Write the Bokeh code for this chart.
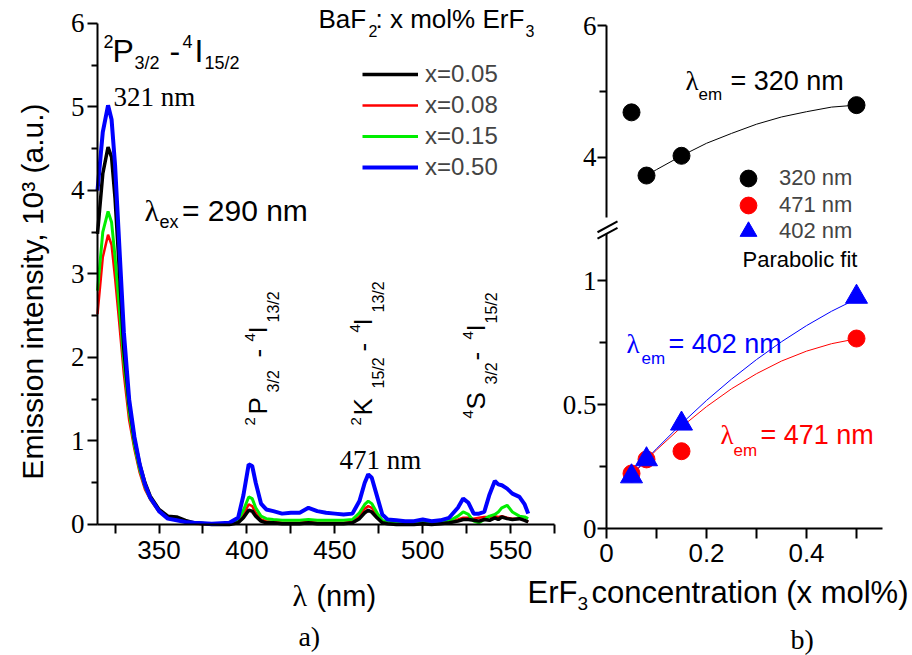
import math
from bokeh.plotting import figure
from bokeh.models import Range1d, LinearAxis, FixedTicker, Label, Legend, LegendItem, Grid
from bokeh.embed import file_html
from bokeh.resources import INLINE

# ---------------- data: panel a) emission spectra ----------------
wavelength = [315, 318, 321, 323, 325, 327, 330, 333, 336, 339,
              342, 345, 350, 355, 360, 365, 370, 380, 390, 395,
              398, 401, 403, 405, 408, 411, 415, 420, 425, 430,
              435, 440, 445, 450, 455, 460, 464, 467, 469, 471,
              474, 477, 480, 485, 490, 495, 500, 505, 510, 515,
              520, 523, 526, 529, 532, 535, 538, 541, 543, 545,
              548, 551, 555, 558, 560]
int_x005 = [3.48, 4.20, 4.52, 4.40, 3.90, 3.20, 2.10, 1.45, 1.02, 0.72,
            0.50, 0.34, 0.18, 0.10, 0.09, 0.05, 0.02, 0.00, 0.00, 0.02,
            0.08, 0.17, 0.16, 0.10, 0.04, 0.02, 0.02, 0.01, 0.01, 0.01,
            0.02, 0.01, 0.01, 0.01, 0.01, 0.02, 0.07, 0.14, 0.17, 0.15,
            0.08, 0.02, 0.01, 0.00, 0.00, 0.00, 0.01, 0.00, 0.01, 0.02,
            0.04, 0.06, 0.06, 0.05, 0.04, 0.06, 0.05, 0.08, 0.06, 0.09,
            0.07, 0.06, 0.07, 0.05, 0.03]
int_x008 = [2.52, 3.20, 3.47, 3.35, 2.95, 2.50, 1.80, 1.25, 0.90, 0.62,
            0.42, 0.30, 0.15, 0.08, 0.06, 0.03, 0.01, 0.00, 0.00, 0.03,
            0.12, 0.24, 0.22, 0.14, 0.06, 0.04, 0.03, 0.02, 0.02, 0.02,
            0.03, 0.02, 0.02, 0.02, 0.02, 0.03, 0.10, 0.19, 0.22, 0.20,
            0.11, 0.03, 0.01, 0.01, 0.00, 0.00, 0.01, 0.01, 0.01, 0.03,
            0.06, 0.08, 0.08, 0.07, 0.08, 0.09, 0.09, 0.10, 0.09, 0.10,
            0.08, 0.07, 0.07, 0.05, 0.03]
int_x015 = [2.80, 3.50, 3.75, 3.62, 3.20, 2.70, 1.95, 1.35, 0.95, 0.66,
            0.45, 0.31, 0.16, 0.08, 0.06, 0.03, 0.02, 0.01, 0.01, 0.05,
            0.17, 0.33, 0.31, 0.20, 0.10, 0.07, 0.06, 0.05, 0.05, 0.05,
            0.06, 0.05, 0.05, 0.05, 0.05, 0.06, 0.14, 0.24, 0.28, 0.25,
            0.14, 0.05, 0.03, 0.02, 0.02, 0.02, 0.03, 0.02, 0.02, 0.04,
            0.10, 0.15, 0.12, 0.04, 0.02, 0.06, 0.10, 0.12, 0.15, 0.20,
            0.23, 0.15, 0.10, 0.09, 0.07]
int_x050 = [4.00, 4.70, 5.02, 4.85, 4.30, 3.50, 2.30, 1.50, 1.05, 0.72,
            0.48, 0.32, 0.16, 0.07, 0.05, 0.03, 0.02, 0.01, 0.02, 0.08,
            0.35, 0.72, 0.70, 0.50, 0.25, 0.18, 0.16, 0.13, 0.14, 0.14,
            0.20, 0.16, 0.14, 0.13, 0.12, 0.13, 0.28, 0.50, 0.60, 0.56,
            0.34, 0.12, 0.06, 0.05, 0.04, 0.04, 0.06, 0.04, 0.05, 0.08,
            0.20, 0.31, 0.26, 0.13, 0.13, 0.15, 0.36, 0.52, 0.48, 0.47,
            0.43, 0.37, 0.33, 0.24, 0.13]
series_labels = ["x=0.05", "x=0.08", "x=0.15", "x=0.50"]

# ---------------- data: panel b) intensity vs concentration ----------------
conc = [0.05, 0.08, 0.15, 0.50]
em320 = [4.68, 3.72, 4.02, 4.79]
em471 = [0.222, 0.279, 0.312, 0.767]
em402 = [0.210, 0.279, 0.423, 0.935]
fit_x = [0.05, 0.08, 0.10, 0.15, 0.20, 0.25, 0.30, 0.35, 0.40, 0.45, 0.50]
fit471 = [0.214, 0.277, 0.317, 0.410, 0.492, 0.564, 0.625, 0.676, 0.716, 0.746, 0.766]
fit402 = [0.214, 0.280, 0.322, 0.423, 0.517, 0.603, 0.682, 0.754, 0.819, 0.877, 0.927]
fit320_x = [0.08, 0.10, 0.15, 0.20, 0.25, 0.30, 0.35, 0.40, 0.45, 0.50]
fit320 = [3.72, 3.81, 4.02, 4.21, 4.36, 4.50, 4.61, 4.69, 4.76, 4.79]
point_labels = ["320 nm", "471 nm", "402 nm"]

# ---------------- ticks ----------------
wl_major = [350, 400, 450, 500, 550]
wl_minor = [325, 375, 425, 475, 525, 575]
int_major = [0, 1, 2, 3, 4, 5, 6]
int_minor = [0.5, 1.5, 2.5, 3.5, 4.5, 5.5]
conc_major = [0, 0.2, 0.4]
conc_minor = [0.1, 0.3, 0.5]
up_major = [4, 6]
up_minor = [5]
low_major = [0, 0.5, 1]
low_minor = [0.25, 0.75]

SANS = "Liberation Sans"
SERIF = "Liberation Serif"

p = figure(width=912, height=655, output_backend="svg", toolbar_location=None,
           x_range=Range1d(259.82, 778.6), y_range=Range1d(-1.569, 6.275),
           x_axis_location=None, y_axis_location=None, title_location=None,
           min_border_left=0, min_border_right=0, min_border_top=0, min_border_bottom=0)
p.outline_line_color = None
p.background_fill_color = "white"
p.border_fill_color = "white"
p.extra_x_ranges = {"conc": Range1d(-1.212, 0.612)}
p.extra_y_ranges = {"lower": Range1d(-0.5127, 2.1316), "upper": Range1d(-3.574, 6.38)}
for r in list(p.center):
    if isinstance(r, Grid):
        r.visible = False


def style_axis(ax, font, size, standoff, tick_out, minor_out):
    ax.axis_line_width = 2
    ax.axis_line_color = "black"
    ax.major_tick_line_width = 2
    ax.minor_tick_line_width = 2
    ax.major_tick_in = 0
    ax.minor_tick_in = 0
    ax.major_tick_out = tick_out
    ax.minor_tick_out = minor_out
    ax.major_label_text_font = font
    ax.major_label_text_font_size = size
    ax.major_label_text_color = "black"
    ax.major_label_standoff = standoff


# panel a axes
ax_int = LinearAxis(ticker=FixedTicker(ticks=int_major, minor_ticks=int_minor), bounds=(0, 6),
                    fixed_location=315)
style_axis(ax_int, SERIF, "27px", 3, 10, 6)
p.add_layout(ax_int, "left")
ax_wl = LinearAxis(ticker=FixedTicker(ticks=wl_major, minor_ticks=wl_minor), bounds=(315, 575),
                   fixed_location=0)
style_axis(ax_wl, SANS, "26px", 8, 9, 9)
p.add_layout(ax_wl, "below")

# panel b axes
ax_conc = LinearAxis(x_range_name="conc", y_range_name="lower", fixed_location=0,
                     ticker=FixedTicker(ticks=conc_major, minor_ticks=conc_minor), bounds=(0, 0.551),
                     major_label_overrides={0: "0", 0.2: "0.2", 0.4: "0.4"})
style_axis(ax_conc, SANS, "26px", 5, 10, 10)
p.add_layout(ax_conc, "below")
ax_low = LinearAxis(x_range_name="conc", y_range_name="lower", fixed_location=0,
                    ticker=FixedTicker(ticks=low_major, minor_ticks=low_minor), bounds=(0, 1.19),
                    major_label_overrides={0: "0", 0.5: "0.5", 1: "1"})
style_axis(ax_low, SERIF, "27px", 1, 9, 7)
p.add_layout(ax_low, "left")
ax_up = LinearAxis(x_range_name="conc", y_range_name="upper", fixed_location=0,
                   ticker=FixedTicker(ticks=up_major, minor_ticks=up_minor), bounds=(3.08, 6))
style_axis(ax_up, SERIF, "27px", 1, 9, 7)
p.add_layout(ax_up, "left")

# axis break marks
p.segment(x0=[-0.018, -0.018], y0=[1.170, 1.196], x1=[0.022, 0.022], y1=[1.214, 1.240],
          x_range_name="conc", y_range_name="lower", line_width=2, line_color="black")

# ---------------- spectra ----------------
r_red = p.line(wavelength, int_x008, line_color="#FF0000", line_width=2.5)
r_green = p.line(wavelength, int_x015, line_color="#00EE00", line_width=3)
r_black = p.line(wavelength, int_x005, line_color="#000000", line_width=3.5)
r_blue = p.line(wavelength, int_x050, line_color="#0000FF", line_width=4)

leg_a = Legend(items=[LegendItem(label=series_labels[0], renderers=[r_black]),
                      LegendItem(label=series_labels[1], renderers=[r_red]),
                      LegendItem(label=series_labels[2], renderers=[r_green]),
                      LegendItem(label=series_labels[3], renderers=[r_blue])],
               location=(362, 474), padding=0, margin=0, spacing=3,
               glyph_width=56, glyph_height=26, label_height=26, label_standoff=7,
               label_text_font=SANS, label_text_font_size="24px",
               border_line_alpha=0, background_fill_alpha=0)
p.add_layout(leg_a)

# ---------------- panel b glyphs ----------------
p.line(fit320_x, fit320, x_range_name="conc", y_range_name="upper", line_color="black", line_width=1)
p.line(fit_x, fit471, x_range_name="conc", y_range_name="lower", line_color="#FF0000", line_width=1)
p.line(fit_x, fit402, x_range_name="conc", y_range_name="lower", line_color="#0000FF", line_width=1)
s320 = p.scatter(conc, em320, x_range_name="conc", y_range_name="upper", marker="circle",
                 size=17, fill_color="black", line_color="black")
s471 = p.scatter(conc, em471, x_range_name="conc", y_range_name="lower", marker="circle",
                 size=17, fill_color="#FF0000", line_color="#FF0000")
s402 = p.scatter(conc, em402, x_range_name="conc", y_range_name="lower", marker="triangle",
                 size=22, fill_color="#0000FF", line_color="#0000FF")

# one legend box per row so that the markers can be big while rows stay close
for lab, rend, ypos in zip(point_labels, [s320, s471, s402], [456, 429, 403]):
    p.add_layout(Legend(items=[LegendItem(label=lab, renderers=[rend])],
                        location=(727, ypos), padding=0, margin=0, spacing=0,
                        glyph_width=42, glyph_height=42, label_height=42, label_standoff=10,
                        label_text_font=SANS, label_text_font_size="22px",
                        border_line_alpha=0, background_fill_alpha=0))


# ---------------- texts ----------------
def rich(x, y, pieces, angle=0.0, color="black", xr="default", yr="default", align="left"):
    ca, sa = math.cos(angle), math.sin(angle)
    for txt, font, size, along, shift in pieces:
        s = shift + 0.3 * size
        p.add_layout(Label(x=x, y=y, x_range_name=xr, y_range_name=yr, text=txt,
                           text_font=font, text_font_size=f"{size}px", text_color=color,
                           x_offset=along * ca - s * sa, y_offset=along * sa + s * ca,
                           angle=angle, text_align=align, text_baseline="alphabetic"))


# panel a annotations
rich(320.1, 5.557, [("2", SANS, 18, -3, 14), ("P", SANS, 32, 6, 0), ("3/2", SANS, 18, 28, -8),
                    ("-", SANS, 32, 63, 0), ("4", SANS, 18, 76, 14), ("I", SANS, 32, 88, 0),
                    ("15/2", SANS, 18, 98, -8)])
rich(324.1, 5.018, [("321 nm", SERIF, 27, 0, 0)])
rich(341.7, 3.653, [("λ", SERIF, 30, 0, 0), ("ex", SANS, 18, 15, -8), ("= 290 nm", SANS, 30, 37.5, 0)])
rich(440.7, 5.964, [("BaF", SANS, 26, 0, 0), ("2", SANS, 16, 50, -9),
                    (": x mol% ErF", SANS, 26, 57, 0), ("3", SANS, 16, 207, -9)])
HALF_PI = math.pi / 2
rich(410.6, 1.186, [("2", SANS, 15, 0, 11), ("P", SANS, 26, 11, 0), ("3/2", SANS, 16, 33, -13),
                    ("-", SANS, 26, 68, 0), ("4", SANS, 15, 84, 11), ("I", SANS, 26, 92, 0),
                    ("13/2", SANS, 16, 103, -13)], angle=HALF_PI)
rich(470.3, 1.186, [("2", SANS, 15, 0, 10), ("K", SANS, 26, 10, 0), ("15/2", SANS, 16, 37, -13),
                    ("-", SANS, 26, 74, 0), ("4", SANS, 15, 93, 11), ("I", SANS, 26, 100, 0),
                    ("13/2", SANS, 16, 113, -13)], angle=HALF_PI)
rich(534.6, 1.269, [("4", SANS, 15, 0, 11), ("S", SANS, 26, 9, 0), ("3/2", SANS, 16, 34, -13),
                    ("-", SANS, 26, 58, 0), ("4", SANS, 15, 79, 11), ("I", SANS, 26, 87, 0),
                    ("15/2", SANS, 16, 95, -13)], angle=HALF_PI)
rich(452.7, 0.671, [("471 nm", SERIF, 27, 0, 0)])
rich(283.14, 2.790, [("Emission intensity, 10³ (a.u.)", SANS, 30, 0, 0)], angle=HALF_PI, align="center")
rich(425.9, -0.958, [("λ", SERIF, 30, 0, 0), ("(nm)", SANS, 29, 24, 0)])
rich(429.3, -1.437, [("a)", SERIF, 28, 0, 0)])

# panel b annotations
rich(0.158, 5.027, [("λ", SERIF, 27, 0, 0), ("em", SANS, 17, 13, -10), ("= 320 nm", SANS, 27, 45, 0)],
     xr="conc", yr="upper")
rich(0.040, 0.7105, [("λ", SERIF, 27, 0, 0), ("em", SANS, 17, 15, -11), ("= 402 nm", SANS, 27, 42, 0)],
     color="#0000FF", xr="conc", yr="lower")
rich(0.228, 0.343, [("λ", SERIF, 27, 0, 0), ("em", SANS, 17, 13, -12), ("= 471 nm", SANS, 27, 40, 0)],
     color="#FF0000", xr="conc", yr="lower")
rich(0.272, 1.058, [("Parabolic fit", SANS, 22, 0, 0)], xr="conc", yr="lower")
rich(-0.158, -0.2947, [("ErF", SANS, 31, 0, 0), ("3", SANS, 19, 50, -8),
                       ("concentration (x mol%)", SANS, 31, 64, 0)], xr="conc", yr="lower")
rich(0.368, -0.484, [("b)", SERIF, 28, 0, 0)], xr="conc", yr="lower")

open("out.html", "w").write(file_html(p, INLINE))
